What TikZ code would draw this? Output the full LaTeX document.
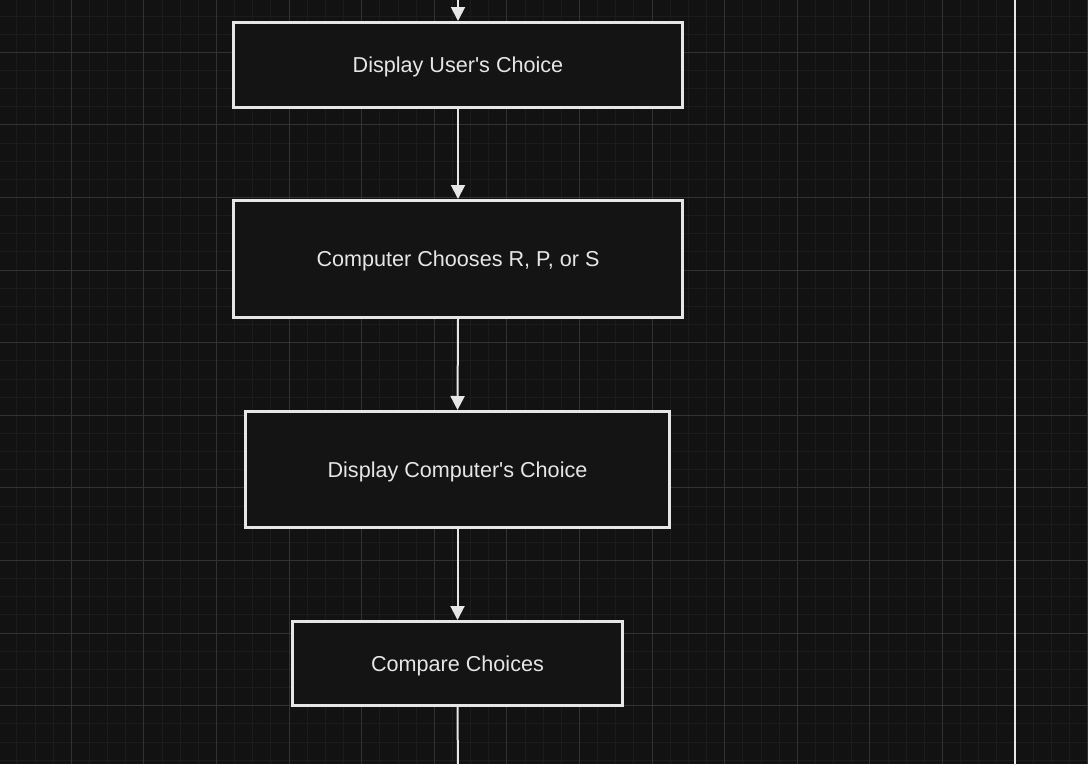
\documentclass[tikz,border=0pt]{standalone}
\usepackage{fontspec}
\setmainfont{Liberation Sans}
\usetikzlibrary{arrows.meta}
\definecolor{bgc}{HTML}{121212}
\definecolor{minorc}{HTML}{1C1C1C}
\definecolor{majorc}{HTML}{323232}
\definecolor{fg}{HTML}{E6E6E6}
\definecolor{boxfill}{HTML}{141414}
\tikzset{
  stepbox/.style={draw=fg, fill=boxfill, line width=2.25pt, rectangle, inner sep=0pt,
    text=fg, font=\fontsize{16.2pt}{19pt}\selectfont, text height=11.6pt, text depth=0pt},
  flow/.style={draw=fg, line width=1.5pt, -{Triangle[width=10.5pt,length=10.5pt]}},
}
\begin{document}
\begin{tikzpicture}[x=0.75pt,y=-0.75pt]
\useasboundingbox (0,0) rectangle (1088,764);
\fill[bgc] (0,0) rectangle (1088,764);
% minor grid
\foreach \i in {-1,...,61} {
  \draw[minorc, line width=0.75pt] ({-1.3+18.15*\i},0) -- ({-1.3+18.15*\i},764);
}
\foreach \i in {-2,...,43} {
  \draw[minorc, line width=0.75pt] (0,{-20.3+18.15*\i}) -- (1088,{-20.3+18.15*\i});
}
% major grid
\foreach \i in {0,...,15} {
  \draw[majorc, line width=0.75pt] ({-1.3+72.6*\i},0) -- ({-1.3+72.6*\i},764);
}
\foreach \i in {0,...,11} {
  \draw[majorc, line width=0.75pt] (0,{-20.3+72.6*\i}) -- (1088,{-20.3+72.6*\i});
}
% vertical white line
\coordinate (vtop) at (1014.5,-5);
\coordinate (vbot) at (1014.5,770);
\draw[fg, line width=1.5pt] (vtop) -- (vbot);

\node[stepbox, minimum width={449*0.75pt}, minimum height={85*0.75pt}] (n1) at (458,65) {Display User\textquotesingle s Choice};
\node[stepbox, minimum width={449*0.75pt}, minimum height={117*0.75pt}] (n2) at (458,259) {Computer Chooses R, P, or S};
\node[stepbox, minimum width={424*0.75pt}, minimum height={116*0.75pt}] (n3) at (457.5,469.5) {Display Computer\textquotesingle s Choice};
\node[stepbox, minimum width={330*0.75pt}, minimum height={84*0.75pt}] (n4) at (457.5,663.5) {Compare Choices};

\coordinate (top) at (458,-10);
\coordinate (bot) at (458,775);
\draw[flow] (top) -- (n1.north);
\draw[flow] (n1.south) -- (n2.north);
\draw[flow] (n2.south) -- (n3.north);
\draw[flow] (n3.south) -- (n4.north);
\draw[fg, line width=1.5pt] (n4.south) -- (bot);
\end{tikzpicture}
\end{document}
